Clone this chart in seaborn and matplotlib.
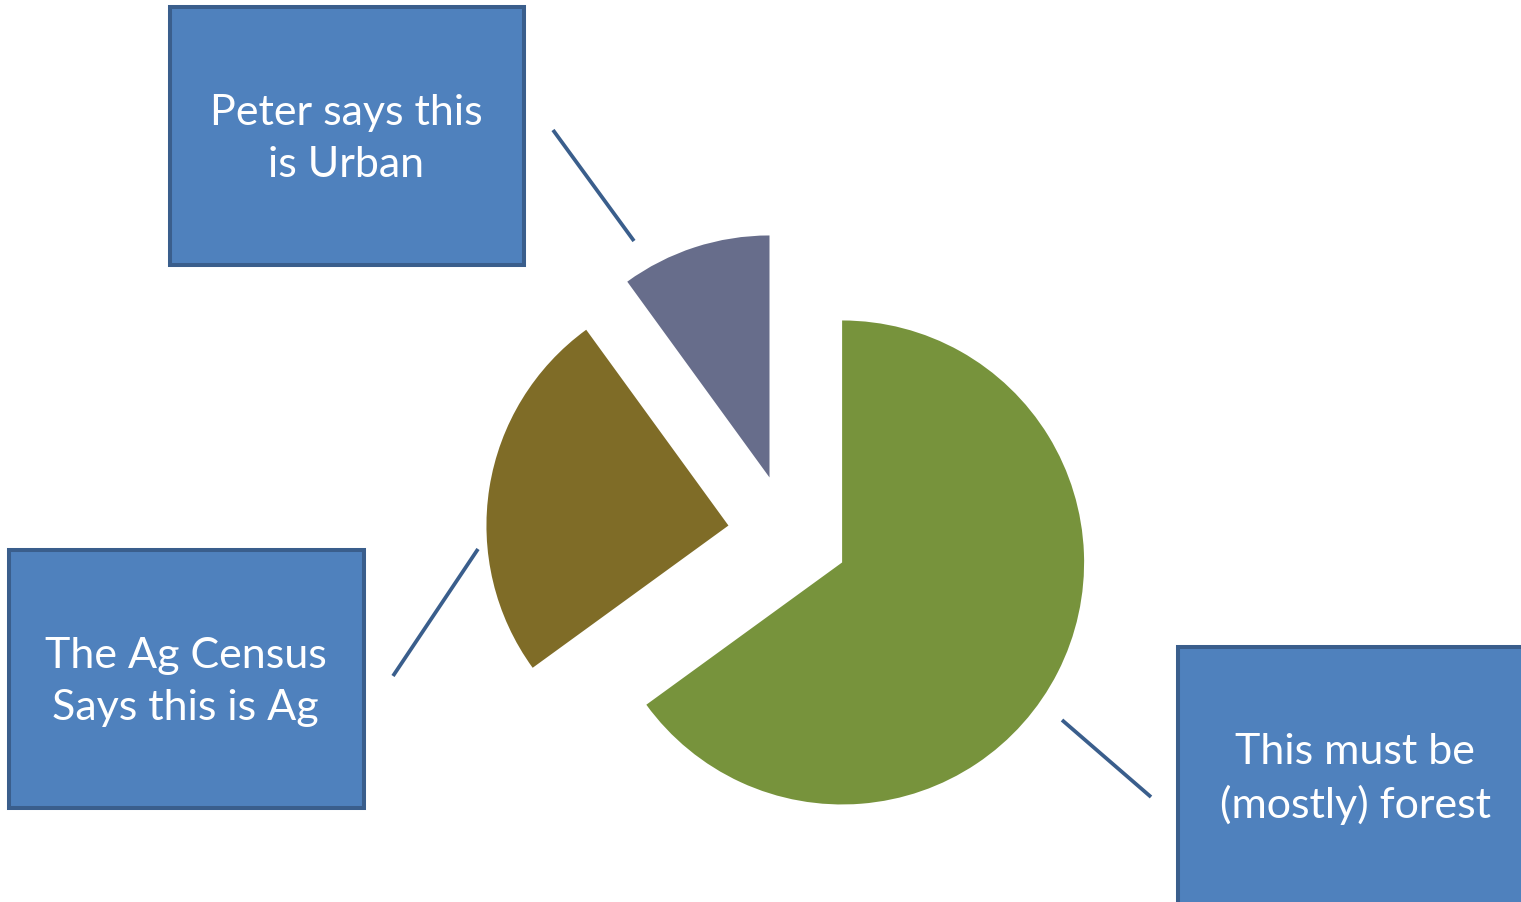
import matplotlib
matplotlib.use("Agg")
import matplotlib.pyplot as plt
from matplotlib.patches import Rectangle
import seaborn as sns

# Land-use shares (percent)
categories = ["Forest", "Ag", "Urban"]
shares = [65, 25, 10]
slice_colors = ["#77933C", "#7F6C27", "#676D8B"]

# Callout texts, one per slice
callouts = [
    "This must be\n(mostly) forest",
    "The Ag Census\nSays this is Ag",
    "Peter says this\nis Urban",
]

W, H = 1521, 903
sns.set_theme(style="white")
plt.rcParams["font.family"] = ["Lato", "DejaVu Sans"]

fig = plt.figure(figsize=(W / 100, H / 100), dpi=100)
ax = fig.add_axes([0, 0, 1, 1])
ax.set_xlim(0, W)
ax.set_ylim(0, H)
ax.set_aspect("equal")
ax.axis("off")


def fy(y):
    """Convert a top-down pixel row to the axes' bottom-up y."""
    return H - y


# Exploded pie (explode is in data units, so scale it by the radius)
radius = 242
ax.pie(
    shares,
    colors=slice_colors,
    startangle=90,
    counterclock=False,
    explode=[0.25 * radius] * len(shares),
    center=(788.2, fy(536.0)),
    radius=radius,
    wedgeprops=dict(linewidth=0),
)
ax.set_xlim(0, W)
ax.set_ylim(0, H)

box_fill = "#4F81BD"
box_edge = "#3A5E8C"

# Callout boxes: (left, top, width, height) in pixel rows, per category
boxes = {
    "Forest": (1178, 648, 356, 258),
    "Ag": (9, 551, 355, 258),
    "Urban": (170, 8, 354, 258),
}
leaders = {
    "Forest": ((1062, 721), (1151, 798)),
    "Ag": ((478, 550), (393, 677)),
    "Urban": ((553, 131), (634, 242)),
}

for cat, text in zip(categories, callouts):
    x0, y0, w, h = boxes[cat]
    ax.add_patch(Rectangle((x0, fy(y0 + h)), w, h, facecolor=box_fill,
                           edgecolor=box_edge, linewidth=2.9, zorder=3,
                           clip_on=False))
    ax.text(x0 + w / 2 - 1, fy(y0 + h / 2 + 2), text, ha="center", va="center",
            color="white", fontsize=31, linespacing=1.42, zorder=4)
    (ax1, ay1), (ax2, ay2) = leaders[cat]
    ax.plot([ax1, ax2], [fy(ay1), fy(ay2)], color=box_edge, linewidth=2.7,
            solid_capstyle="butt", zorder=2)

fig.savefig("out.png", dpi=100)
